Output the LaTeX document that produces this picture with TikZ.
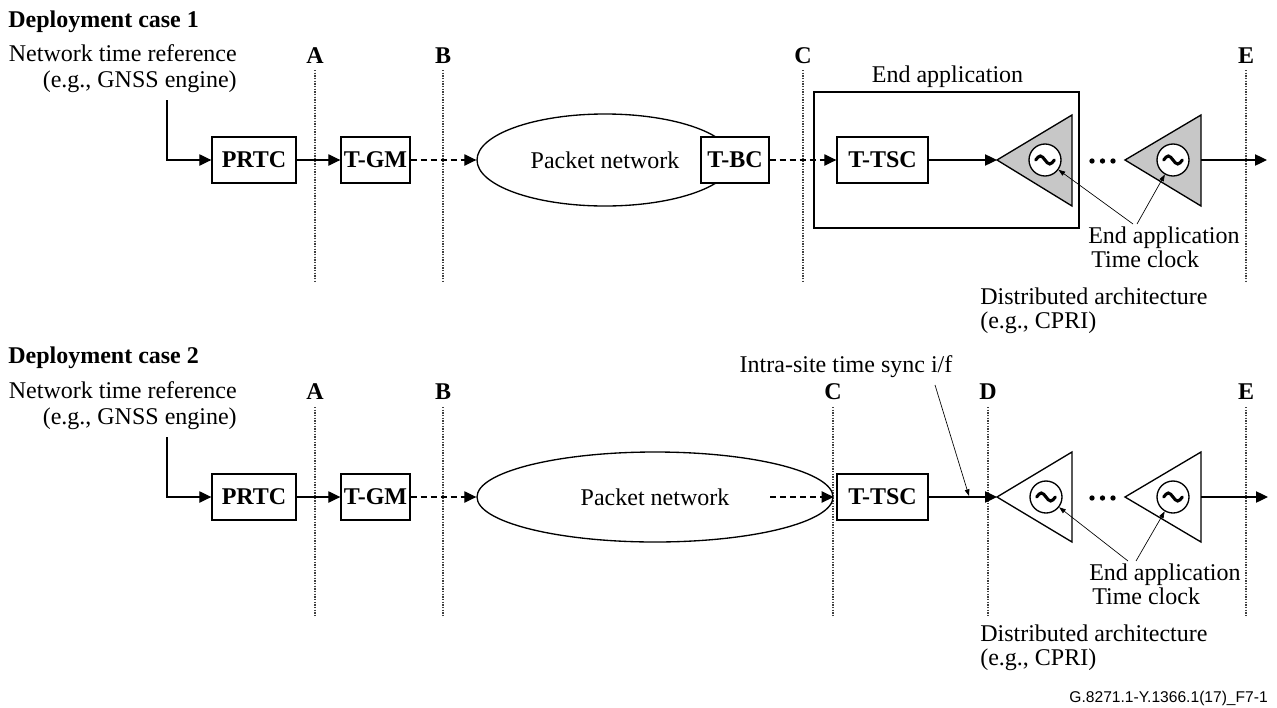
\documentclass[tikz,border=0pt]{standalone}
\usepackage{fontspec}
\setmainfont{Liberation Serif}
\newfontfamily\footfont{Liberation Sans}
\usetikzlibrary{arrows.meta,shapes.geometric}
\newcommand\osctilde[1]{\draw[line width=2.3pt, line cap=round]
  ([shift={(-7pt,0pt)}]#1.center) sin ([shift={(-3.5pt,3pt)}]#1.center)
  cos (#1.center) sin ([shift={(3.5pt,-3pt)}]#1.center)
  cos ([shift={(7pt,0pt)}]#1.center);}
\begin{document}
\begin{tikzpicture}[x=0.75pt,y=-0.75pt,
  every node/.style={font=\fontsize{18}{21}\selectfont, inner sep=0pt},
  box/.style={draw, line width=1pt, fill=white, minimum height=34.5pt, font=\fontsize{18}{21}\selectfont\bfseries},
  lbl/.style={font=\fontsize{18}{21}\selectfont\bfseries, anchor=base},
  marker/.style={draw=black!75, line width=0.9pt, dash pattern=on 1pt off 1pt},
  conn/.style={line width=0.9pt, -{Triangle[length=9pt,width=8.5pt]}},
  dconn/.style={conn, dash pattern=on 4.5pt off 3pt},
  ptr/.style={line width=0.5pt, -{Triangle[length=5pt,width=3.5pt]}},
  tri/.style={draw, line width=1pt, line join=miter},
  osc/.style={circle, draw, line width=1pt, fill=white, minimum size=24pt},
  tl/.style={anchor=base west},
]
\useasboundingbox (0,0) rectangle (1277,707);

% ---------------- Case 1 ----------------
\node[tl, font=\fontsize{18}{21}\selectfont\bfseries] (title1) at (8,27) {Deployment case 1};
\node[anchor=base east] (ref1a) at (237,61) {Network time reference};
\node[anchor=base east] (ref1b) at (237,87) {(e.g., GNSS engine)};

\foreach \x/\n in {315/A,443/B,803/C,1246/E}{
  \draw[marker] (\x,70) -- (\x,281);
  \node[lbl] (m1\n) at (\x,63) {\n};
}

\node[box, minimum width=63pt] (prtc1) at (254,160) {PRTC};
\node[box, minimum width=51.75pt] (tgm1) at (375.5,160) {T-GM};
\node[ellipse, draw, line width=1pt, minimum width=192pt, minimum height=69pt] (net1) at (605,160) {Packet network};
\node[box, minimum width=51pt] (tbc1) at (735,160) {T-BC};
\node[draw, line width=1pt, minimum width=198.75pt, minimum height=102pt] (app1) at (946.5,160) {};
\node[anchor=base] (applbl1) at (947.5,82) {End application};
\node[box, minimum width=68.25pt] (ttsc1) at (882.5,160) {T-TSC};

\coordinate (t1tip) at (997,160);
\draw[tri, fill=black!22] (t1tip) -- (1072,115) -- (1072,206) -- cycle;
\node[osc] (osc1a) at (1045,160) {};
\osctilde{osc1a}
\foreach \x in {1092,1102.5,1113}{\fill (\x,161) circle[radius=2pt];}
\coordinate (t2tip) at (1125,160);
\draw[tri, fill=black!22] (t2tip) -- (1201,115) -- (1201,206) -- cycle;
\coordinate (t2out) at (1201,160);
\node[osc] (osc1b) at (1173,160) {};
\osctilde{osc1b}
\coordinate (end1) at (1267,160);

\coordinate (src1) at (167,100);
\draw[conn] (src1) |- (prtc1.west);
\draw[conn] (prtc1) -- (tgm1);
\draw[dconn] (tgm1) -- (net1);
\draw[dconn] (tbc1) -- (ttsc1);
\draw[conn] (ttsc1) -- (t1tip);
\draw[conn] (t2out) -- (end1);

\node[tl] (clk1a) at (1088,243) {End application};
\node[tl] (clk1b) at (1091,267) {Time clock};
\coordinate (p1a) at (1133,224);
\coordinate (p1b) at (1137,224);
\draw[ptr] (p1a) -- (osc1a);
\draw[ptr] (p1b) -- (osc1b);
\node[tl] (dist1a) at (980,304) {Distributed architecture};
\node[tl] (dist1b) at (980,328) {(e.g., CPRI)};

% ---------------- Case 2 ----------------
\node[tl, font=\fontsize{18}{21}\selectfont\bfseries] (title2) at (8,363) {Deployment case 2};
\node[anchor=base east] (ref2a) at (237,398) {Network time reference};
\node[anchor=base east] (ref2b) at (237,424) {(e.g., GNSS engine)};

\foreach \x/\n in {315/A,443/B,833/C,988/D,1246/E}{
  \draw[marker] (\x,407) -- (\x,617);
  \node[lbl] (m2\n) at (\x,399) {\n};
}

\node[box, minimum width=63pt] (prtc2) at (254,497) {PRTC};
\node[box, minimum width=51.75pt] (tgm2) at (375.5,497) {T-GM};
\node[ellipse, draw, line width=1pt, minimum width=267pt, minimum height=67.5pt] (net2) at (655,497) {Packet network};
\node[box, minimum width=68.25pt] (ttsc2) at (882.5,497) {T-TSC};
\node[anchor=base] (intra) at (846,372) {Intra-site time sync i/f};

\coordinate (t3tip) at (997,497);
\draw[tri, fill=white] (t3tip) -- (1072,452) -- (1072,542) -- cycle;
\node[osc] (osc2a) at (1046,497) {};
\osctilde{osc2a}
\foreach \x in {1092,1102.5,1113}{\fill (\x,498) circle[radius=2pt];}
\coordinate (t4tip) at (1125,497);
\draw[tri, fill=white] (t4tip) -- (1201,452) -- (1201,542) -- cycle;
\coordinate (t4out) at (1201,497);
\node[osc] (osc2b) at (1173,497) {};
\osctilde{osc2b}
\coordinate (end2) at (1268,497);

\coordinate (src2) at (167,437);
\coordinate (in2) at (770,497);
\draw[conn] (src2) |- (prtc2.west);
\draw[conn] (prtc2) -- (tgm2);
\draw[dconn] (tgm2) -- (net2);
\draw[dconn] (in2) -- (net2.east);
\draw[conn] (ttsc2) -- (t3tip);
\draw[conn] (t4out) -- (end2);

\coordinate (ip1) at (935,385);
\coordinate (ip2) at (969,496);
\draw[ptr] (ip1) -- (ip2);

\node[tl] (clk2a) at (1089,580) {End application};
\node[tl] (clk2b) at (1092,604) {Time clock};
\coordinate (p2a) at (1128,561);
\coordinate (p2b) at (1136,561);
\draw[ptr] (p2a) -- (osc2a);
\draw[ptr] (p2b) -- (osc2b);
\node[tl] (dist2a) at (980,641) {Distributed architecture};
\node[tl] (dist2b) at (980,665) {(e.g., CPRI)};

\node[anchor=base east, font=\footfont\fontsize{11.7}{14}\selectfont] (fig) at (1268,702) {G.8271.1-Y.1366.1(17)\_F7-1};
\end{tikzpicture}
\end{document}
